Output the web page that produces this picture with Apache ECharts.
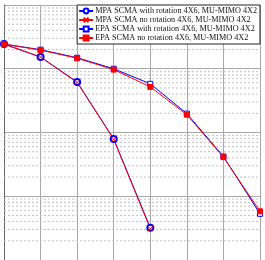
<!DOCTYPE html>
<html>
<head>
<meta charset="utf-8">
<script src="https://cdn.jsdelivr.net/npm/echarts@6/dist/echarts.min.js"></script>
<style>
  html, body { margin: 0; padding: 0; background: #fff; }
  #chart { width: 265px; height: 260px; }
</style>
</head>
<body>
<div id="chart"></div>
<script>
// x positions (dB steps, labels cropped out of the picture)
const snr = [0, 2, 4, 6, 8, 10, 12, 14]

// BER values
const mpaRot = [0.0244, 0.0153, 0.0062, 0.00079, 0.000032]
const mpaNoRot = [0.0244, 0.0152, 0.0061, 0.00078, 0.000031]
const epaRot = [0.0244, 0.0199, 0.0149, 0.0100, 0.0058, 0.00198, 0.00042, 0.000053]
const epaNoRot = [0.0243, 0.0196, 0.0146, 0.0097, 0.0052, 0.00190, 0.00041, 0.000058]

const names = [
    'MPA SCMA with rotation 4X6, MU-MIMO 4X2',
    'MPA SCMA no rotation 4X6, MU-MIMO 4X2',
    'EPA SCMA with rotation 4X6, MU-MIMO 4X2',
    'EPA SCMA no rotation 4X6, MU-MIMO 4X2'
]

// minor grid lines 2..9 x 10^k
const minorValues = []
for (let e = -5; e < -1; e++) {
    for (let m = 2; m <= 9; m++) minorValues.push(m * Math.pow(10, e))
}

const pairs = arr => arr.map((v, i) => [snr[i], v])

// each minor grid line is a plain line across the x range
const minorSeries = minorValues.map(v => ({
    name: 'minor',
    type: 'line',
    silent: true,
    symbol: 'none',
    z: 1,
    data: [[snr[0], v], [snr[snr.length - 1], v]],
    lineStyle: { color: '#c2c2c2', type: [2, 2], width: 1 }
}))

const chart = echarts.init(document.getElementById('chart'))
chart.setOption({
    animation: false,
    grid: { left: 4, right: 5, top: 5, bottom: 0 },
    xAxis: {
        type: 'value',
        min: 0,
        max: 14,
        interval: 2,
        axisLabel: { show: false },
        axisTick: { show: false },
        axisLine: { show: true, lineStyle: { color: '#666' } },
        splitLine: { show: true, lineStyle: { color: '#a8a8a8', width: 1 } }
    },
    yAxis: {
        type: 'log',
        min: 1e-5,
        max: 1e-1,
        logBase: 10,
        axisLabel: { show: false },
        axisTick: { show: false },
        axisLine: { show: true, lineStyle: { color: '#666' } },
        splitLine: { show: true, lineStyle: { color: '#a8a8a8', width: 1 } }
    },
    legend: {
        orient: 'vertical',
        right: 5,
        top: 5,
        padding: [2, 3, 2, 1],
        itemGap: 1,
        itemWidth: 14,
        itemHeight: 6,
        backgroundColor: '#fff',
        borderColor: '#222',
        borderWidth: 1,
        borderRadius: 0,
        textStyle: { fontFamily: 'Liberation Serif', fontSize: 8.2, color: '#111', padding: [0, 0, 0, -3] },
        data: names
    },
    series: minorSeries.concat([
        {
            name: names[0],
            type: 'line',
            z: 3,
            data: pairs(mpaRot),
            symbol: 'emptyCircle',
            symbolSize: 6,
            lineStyle: { color: '#0000ff', width: 1 },
            itemStyle: { color: '#0000ff', borderColor: '#0000ff', borderWidth: 1 }
        },
        {
            name: names[1],
            type: 'line',
            z: 3,
            data: pairs(mpaNoRot),
            symbol: 'path://M0,0L10,10M10,0L0,10',
            symbolSize: 5,
            lineStyle: { color: '#ff0000', width: 1 },
            itemStyle: { color: 'rgba(255,0,0,0)', borderColor: '#ff0000', borderWidth: 1 }
        },
        {
            name: names[2],
            type: 'line',
            z: 3,
            data: pairs(epaRot),
            symbol: 'rect',
            symbolSize: 5,
            lineStyle: { color: '#0000ff', width: 1 },
            itemStyle: { color: '#fff', borderColor: '#0000ff', borderWidth: 1 }
        },
        {
            name: names[3],
            type: 'line',
            z: 3,
            data: pairs(epaNoRot),
            symbol: 'rect',
            symbolSize: 5,
            lineStyle: { color: '#ff0000', width: 1 },
            itemStyle: { color: '#ff0000', borderColor: '#ff0000', borderWidth: 1 }
        }
    ])
})
</script>
</body>
</html>
